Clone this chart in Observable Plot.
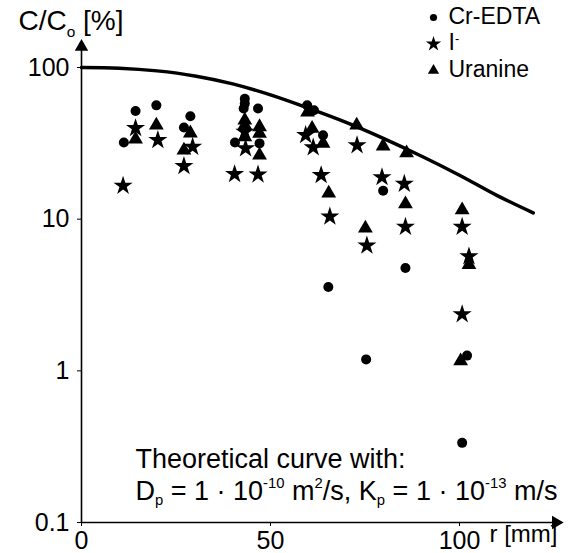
<!DOCTYPE html>
<html><head><meta charset="utf-8">
<script src="https://cdn.jsdelivr.net/npm/d3@7"></script>
<script src="https://cdn.jsdelivr.net/npm/@observablehq/plot@0.6"></script>
<style>body{margin:0;background:#fff} svg{display:block}</style>
</head><body><div id="chart"></div>
<script>
// Cr-EDTA (circles)
const crEdtaR = [11.2,14.3,19.8,28.8,27.1,43.2,43.2,42.9,40.6,46.7,47.1,59.7,61.5,63.9,79.8,65.3,85.7,75.3,102,100.7];
const crEdtaC = [32,51.7,56.3,47.7,40.2,62.2,57.8,53.6,32,53.6,31.6,56.3,52.3,35.8,15.4,3.57,4.77,1.19,1.26,0.335];
// Iodide (stars)
const iodideR = [11,14.3,20.2,29.4,27.1,43.2,43.4,40.5,46.7,59.3,61.3,72.9,63.4,65.7,79.5,85.4,85.7,75.5,100.7,102.5,100.7];
const iodideC = [16.6,39.8,33.2,30,22.4,37.6,29.3,19.8,19.7,35.8,29.7,30.7,19.5,10.4,18.9,17.1,8.9,6.7,8.9,5.68,2.36];
// Uranine (triangles)
const uranineR = [14.3,19.8,28.8,27.1,43.2,43.2,43.2,47.1,47.1,47.1,59.8,61,63.9,72.8,79.8,86,65.4,85.7,75.1,100.7,102.5,100.3];
const uranineC = [33.6,41.6,36.9,28.5,44.9,41.6,34.8,40.6,36.7,26.4,50.7,39.6,31.6,41.6,30.3,27.3,14.8,12.6,8.7,11.5,5.0,1.16];
// Theoretical curve
const curveR = [0,10,20,30,40,50,60,70,80,90,100,110,119.5];
const curveC = [100,99,95,88,78,66,54,43.5,34,26,19.5,14.3,11];
// Axis ticks and extents
const xTicks = [0,50,100];
const yTicks = [0.1,1,10,100];
const xAxisEnd = 125.5;
const yAxisEnd = 137;
const seriesNames = ["Cr-EDTA","I","Uranine"];
const seriesSymbols = ["circle","star","triangle"];

const pts = (R, C) => R.map((r, i) => ({r, c: C[i]}));
const cr = pts(crEdtaR, crEdtaC);
const io = pts(iodideR, iodideC);
const ur = pts(uranineR, uranineC);
const curve = pts(curveR, curveC);

const font = "Liberation Sans, Arial, Helvetica, sans-serif";
const fs = 26;
const legendDy = [-60, -33.5, -7];
const legendAnchor = [{r: 100, c: 100}];
const legendSymR = [3.6, 4.8, 4.2];

const legendMarks = seriesNames.flatMap((name, i) => [
  Plot.text([name], {frameAnchor: "top-right", textAnchor: "start", dx: -11, dy: legendDy[i], fontSize: 23, fill: "#000", className: "leg" + i}),
  Plot.dot(legendAnchor, {x: "r", y: "c", dx: -26, dy: legendDy[i] + 10, symbol: seriesSymbols[i], r: legendSymR[i], fill: "#000", stroke: null})
]);

const chart = Plot.plot({
  width: 575, height: 553,
  marginLeft: 81, marginRight: 116, marginTop: 67, marginBottom: 31,
  style: {fontFamily: font, fontSize: fs + "px", background: "#fff", color: "#000"},
  x: {domain: [0, 100]},
  y: {type: "log", domain: [0.1, 100]},
  marks: [
    Plot.ruleY([0.1], {x1: 0, x2: xAxisEnd, stroke: "#000", strokeWidth: 1.6}),
    Plot.ruleX([0], {y1: 0.1, y2: yAxisEnd, stroke: "#000", strokeWidth: 1.6}),
    Plot.dot([{r: xAxisEnd, c: 0.1}], {x: "r", y: "c", symbol: "triangle", rotate: 90, r: 5, fill: "#000", stroke: null}),
    Plot.dot([{r: 0, c: yAxisEnd}], {x: "r", y: "c", symbol: "triangle", r: 5, fill: "#000", stroke: null}),
    Plot.axisX({ticks: xTicks, tickSize: 4, tickPadding: 5, tickFormat: d => d, fontSize: 25, label: null}),
    Plot.axisY({ticks: yTicks, tickSize: 4, tickPadding: 8, tickFormat: d => String(d), fontSize: 25, label: null}),
    Plot.line(curve, {x: "r", y: "c", curve: "catmull-rom", stroke: "#000", strokeWidth: 3.5}),
    Plot.dot(cr, {x: "r", y: "c", symbol: "circle", r: 5, fill: "#000", stroke: null}),
    Plot.dot(io, {x: "r", y: "c", symbol: "star", r: 6, fill: "#000", stroke: null}),
    Plot.dot(ur, {x: "r", y: "c", symbol: "triangle", r: 5.5, fill: "#000", stroke: null}),
    // title
    Plot.text(["C/C [%]"], {frameAnchor: "top-left", textAnchor: "start", dx: -63, dy: -57, fontSize: 28, fill: "#000", className: "ttl"}),
    // x label
    Plot.text(["r [mm]"], {frameAnchor: "bottom-right", textAnchor: "start", dx: 30, dy: 19, fontSize: 24, fill: "#000"}),
    ...legendMarks,
    // annotation
    Plot.text(["Theoretical curve with:"], {frameAnchor: "bottom-left", textAnchor: "start", dx: 54, dy: -55, fontSize: 27, fill: "#000"}),
    Plot.text(["Dp = 1 · 10-10 m2/s, Kp = 1 · 10-13 m/s"], {frameAnchor: "bottom-left", textAnchor: "start", dx: 54, dy: -23, fontSize: 27, fill: "#000", className: "anno2"})
  ]
});
document.getElementById("chart").appendChild(chart);

// rich text: [string, kind] where kind 1 = superscript, -1 = subscript
function richify(sel, parts, size, up = 0.42) {
  const el = chart.querySelector(sel);
  if (!el) return;
  const t = d3.select(el);
  t.text("");
  let cur = 0;
  parts.forEach(([s, k]) => {
    const target = k === 1 ? -up * size : k === -1 ? 0.22 * size : 0;
    const ts = t.append("tspan").text(s).attr("dy", (target - cur) + "px");
    if (k !== 0) ts.attr("font-size", (0.55 * size) + "px");
    cur = target;
  });
}
richify(".anno2 text", [["D",0],["p",-1],[" = 1 · 10",0],["-10",1],[" m",0],["2",1],["/s, K",0],["p",-1],[" = 1 · 10",0],["-13",1],[" m/s",0]], 27);
richify(".ttl text", [["C/C",0],["o",-1],[" [%]",0]], 28);
richify(".leg1 text", [["I",0],["-",1]], 23, 0.3);
</script>
</body></html>
